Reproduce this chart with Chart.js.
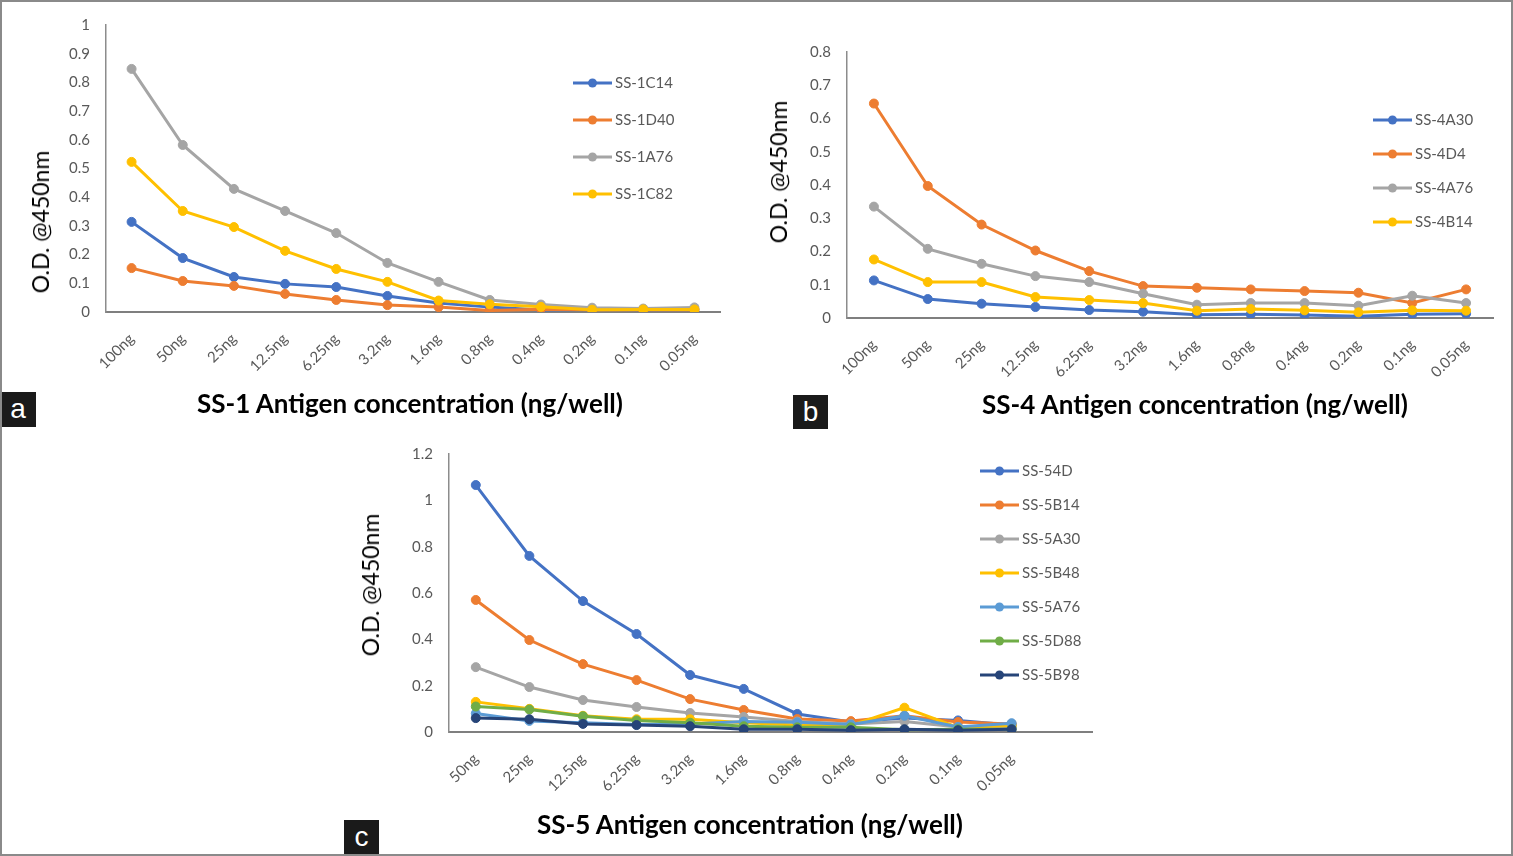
<!DOCTYPE html>
<html><head><meta charset="utf-8">
<script src="https://cdn.jsdelivr.net/npm/chart.js@4.4.1/dist/chart.umd.min.js"></script>
<style>
html,body{margin:0;padding:0;background:#fff;}
#wrap{position:relative;width:1513px;height:856px;overflow:hidden;background:#fff;}
#frame{position:absolute;left:0;top:0;width:1513px;height:856px;box-sizing:border-box;border:2px solid #8a8a8a;pointer-events:none;}
canvas{position:absolute;left:0;top:0;}
.yt{position:absolute;font-family:Lato,'Open Sans',sans-serif;font-size:23px;color:#000;transform:translate(-50%,-50%) rotate(-90deg);white-space:nowrap;}
.xt{position:absolute;font-family:Lato,'Open Sans',sans-serif;font-weight:bold;font-size:26px;color:#000;transform:translate(-50%,-50%);white-space:nowrap;}
.tag{position:absolute;background:#1a1a1a;color:#fff;font-family:'Liberation Sans',Arial,sans-serif;font-size:28px;line-height:34px;text-align:center;}
</style></head>
<body><div id="wrap">
<canvas id="cA" width="1513" height="856"></canvas>
<canvas id="cB" width="1513" height="856"></canvas>
<canvas id="cC" width="1513" height="856"></canvas>
<div class="yt" style="left:40px;top:222px;">O.D. @450nm</div>
<div class="yt" style="left:778px;top:172px;">O.D. @450nm</div>
<div class="yt" style="left:370px;top:585px;">O.D. @450nm</div>
<div class="xt" style="left:410px;top:403px;">SS-1 Antigen concentration (ng/well)</div>
<div class="xt" style="left:1195px;top:404px;">SS-4 Antigen concentration (ng/well)</div>
<div class="xt" style="left:750px;top:824px;">SS-5 Antigen concentration (ng/well)</div>
<div class="tag" style="left:0px;top:392px;width:36px;height:35px;">a</div>
<div class="tag" style="left:793px;top:395px;width:35px;height:34px;">b</div>
<div class="tag" style="left:344px;top:820px;width:35px;height:35px;">c</div>
<div id="frame"></div>
</div>
<script>
// ---- Panel a data ----
const catsA = ['100ng','50ng','25ng','12.5ng','6.25ng','3.2ng','1.6ng','0.8ng','0.4ng','0.2ng','0.1ng','0.05ng'];
const namesA = ['SS-1C14','SS-1D40','SS-1A76','SS-1C82'];
const ss1C14 = [0.314,0.188,0.122,0.098,0.087,0.056,0.031,0.017,0.007,0.009,0.008,0.009];
const ss1D40 = [0.153,0.108,0.091,0.063,0.042,0.024,0.017,0.005,0.010,0.008,0.008,0.008];
const ss1A76 = [0.847,0.582,0.429,0.352,0.275,0.171,0.105,0.042,0.026,0.015,0.012,0.016];
const ss1C82 = [0.523,0.352,0.296,0.213,0.150,0.105,0.040,0.027,0.018,0.008,0.009,0.009];

// ---- Panel b data ----
const catsB = ['100ng','50ng','25ng','12.5ng','6.25ng','3.2ng','1.6ng','0.8ng','0.4ng','0.2ng','0.1ng','0.05ng'];
const namesB = ['SS-4A30','SS-4D4','SS-4A76','SS-4B14'];
const ss4A30 = [0.113,0.057,0.043,0.033,0.024,0.019,0.010,0.011,0.009,0.005,0.011,0.013];
const ss4D4  = [0.645,0.397,0.281,0.203,0.141,0.096,0.091,0.086,0.081,0.076,0.045,0.086];
const ss4A76 = [0.335,0.208,0.163,0.126,0.108,0.073,0.040,0.045,0.045,0.037,0.067,0.045];
const ss4B14 = [0.176,0.108,0.108,0.063,0.054,0.045,0.022,0.027,0.023,0.017,0.023,0.022];

// ---- Panel c data ----
const catsC = ['50ng','25ng','12.5ng','6.25ng','3.2ng','1.6ng','0.8ng','0.4ng','0.2ng','0.1ng','0.05ng',''];
const namesC = ['SS-54D','SS-5B14','SS-5A30','SS-5B48','SS-5A76','SS-5D88','SS-5B98'];
const ss54D  = [1.066,0.760,0.565,0.423,0.246,0.186,0.078,0.043,0.060,0.050,0.030,null];
const ss5B14 = [0.570,0.397,0.293,0.224,0.142,0.095,0.056,0.047,0.070,0.043,0.035,null];
const ss5A30 = [0.280,0.194,0.138,0.108,0.082,0.065,0.045,0.035,0.045,0.022,0.022,null];
const ss5B48 = [0.130,0.100,0.070,0.055,0.055,0.040,0.030,0.028,0.105,0.020,0.028,null];
const ss5A76 = [0.080,0.048,0.040,0.032,0.035,0.045,0.042,0.032,0.070,0.022,0.038,null];
const ss5D88 = [0.110,0.097,0.068,0.050,0.040,0.025,0.020,0.020,0.010,0.012,0.012,null];
const ss5B98 = [0.060,0.055,0.035,0.030,0.025,0.012,0.012,0.008,0.012,0.008,0.012,null];

const colors4 = ['#4472C4','#ED7D31','#A5A5A5','#FFC000'];
const colors7 = ['#4472C4','#ED7D31','#A5A5A5','#FFC000','#5B9BD5','#70AD47','#264478'];

const FONT = "Lato, 'Open Sans', sans-serif";

const xlLegend = {
  id: 'xlLegend',
  afterDatasetsDraw(chart, args, opts) {
    const ctx = chart.ctx;
    ctx.save();
    chart.data.datasets.forEach((ds, i) => {
      const y = opts.y + i * opts.gap;
      ctx.strokeStyle = ds.borderColor; ctx.lineWidth = 3;
      ctx.beginPath(); ctx.moveTo(opts.x, y); ctx.lineTo(opts.x + 39, y); ctx.stroke();
      ctx.fillStyle = ds.borderColor;
      ctx.beginPath(); ctx.arc(opts.x + 19.5, y, 4.5, 0, Math.PI * 2); ctx.fill();
      ctx.fillStyle = '#595959'; ctx.font = '15px ' + FONT; ctx.textBaseline = 'middle';
      ctx.fillText(ds.label, opts.x + 42, y);
    });
    ctx.restore();
  }
};

function makeChart(id, cats, series, names, colors, g, yMax, yStep, leg) {
  const YW = 60, XH = 80;
  const n = series.length;
  new Chart(document.getElementById(id), {
    type: 'line',
    data: {
      labels: cats,
      datasets: series.map((s, i) => ({
        label: names[i], data: s,
        borderColor: colors[i], backgroundColor: colors[i],
        pointBackgroundColor: colors[i], pointBorderColor: colors[i],
        borderWidth: 3, pointRadius: 4.5, pointBorderWidth: 1,
        tension: 0, fill: false, order: n - i
      }))
    },
    options: {
      responsive: false, animation: false, events: [],
      layout: { padding: { left: g.L - YW, top: g.T, right: 1513 - g.R, bottom: 856 - g.B - XH } },
      plugins: { legend: { display: false }, tooltip: { enabled: false }, xlLegend: leg },
      scales: {
        x: {
          type: 'category', offset: true,
          grid: { display: false, drawTicks: false },
          border: { display: true, color: '#7f7f7f', width: 2 },
          ticks: { autoSkip: false, minRotation: 45, maxRotation: 45, padding: 18,
                   color: '#595959', font: { family: FONT, size: 15 } },
          afterFit(s) { s.height = XH; }
        },
        y: {
          min: 0, max: yMax,
          grid: { display: false, drawTicks: false },
          border: { display: true, color: '#8c8c8c', width: 1.5 },
          ticks: { stepSize: yStep, padding: 16, color: '#595959', font: { family: FONT, size: 15 },
                   callback: v => String(Math.round(v * 100) / 100) },
          afterFit(s) { s.width = YW; }
        }
      }
    },
    plugins: [xlLegend]
  });
}

makeChart('cA', catsA, [ss1C14, ss1D40, ss1A76, ss1C82], namesA, colors4,
  { L: 106, R: 720, T: 25, B: 312 }, 1, 0.1, { x: 573, y: 83, gap: 37 });
makeChart('cB', catsB, [ss4A30, ss4D4, ss4A76, ss4B14], namesB, colors4,
  { L: 847, R: 1493, T: 52, B: 318 }, 0.8, 0.1, { x: 1373, y: 120, gap: 34 });
makeChart('cC', catsC, [ss54D, ss5B14, ss5A30, ss5B48, ss5A76, ss5D88, ss5B98], namesC, colors7,
  { L: 449, R: 1092, T: 454, B: 732 }, 1.2, 0.2, { x: 980, y: 471, gap: 34 });
</script>
</body></html>
